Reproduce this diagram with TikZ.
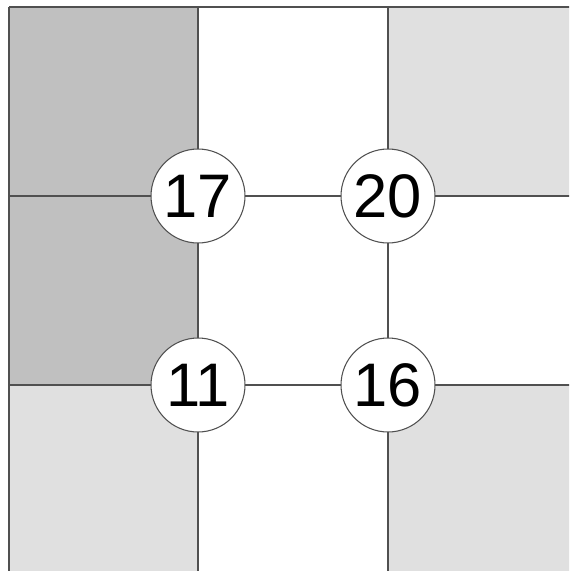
\documentclass[tikz,border=0pt]{standalone}
\usepackage{fontspec}
\setmainfont{Liberation Sans}
\usetikzlibrary{positioning}
\definecolor{darkcell}{HTML}{C0C0C0}
\definecolor{lightcell}{HTML}{E0E0E0}
\definecolor{gridline}{HTML}{505050}

\begin{document}
\begin{tikzpicture}[
    x=0.02cm, y=-0.02cm,
    gline/.style={draw=gridline, line width=0.6pt},
    dot/.style={circle, draw=gridline, line width=0.6pt, fill=white, minimum size=1.88cm, inner sep=0pt, font=\fontsize{35}{40}\selectfont}
]
  \useasboundingbox (0,0) rectangle (569,571);
  \clip (0,0) rectangle (569,571);

  % shaded cells
  \fill[darkcell] (9,7) rectangle (198,385);
  \fill[lightcell] (388,7) rectangle (580,196);
  \fill[lightcell] (9,385) rectangle (198,580);
  \fill[lightcell] (388,385) rectangle (580,580);

  % grid
  \foreach \gx in {9,198,388}
    \draw[gline] (\gx,7) -- (\gx,580);
  \foreach \gy in {7,196,385}
    \draw[gline] (9,\gy) -- (580,\gy);

  \node[dot] (n17) at (198,196) {17};
  \node[dot] (n20) at (388,196) {20};
  \node[dot] (n11) at (198,385) {11};
  \node[dot] (n16) at (388,385) {16};
\end{tikzpicture}
\end{document}
